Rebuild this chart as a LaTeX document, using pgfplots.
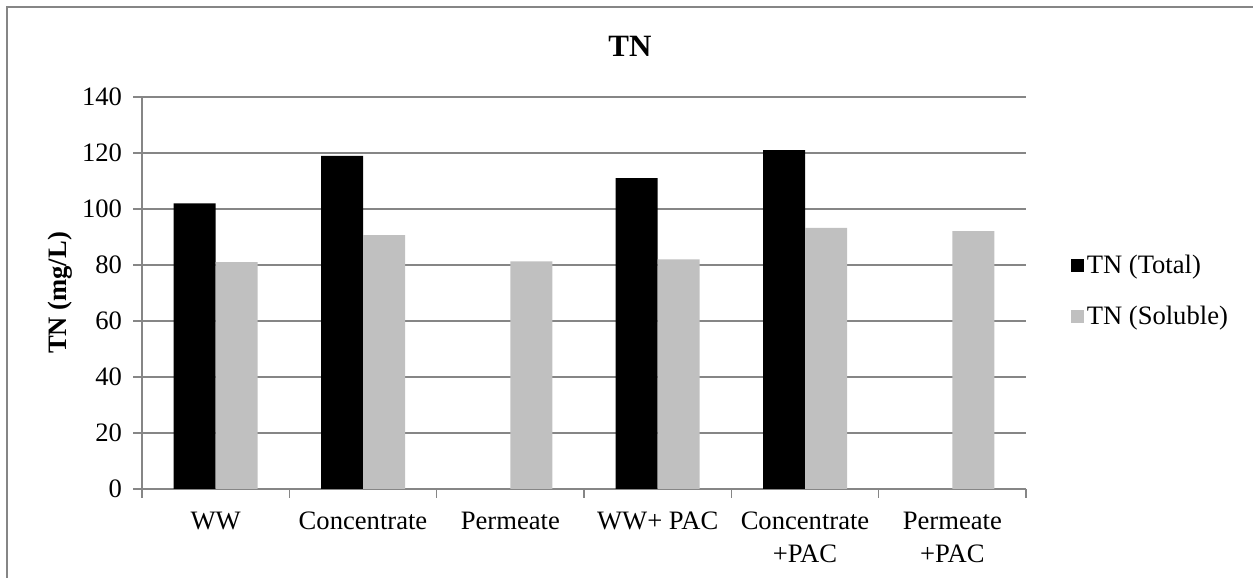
\documentclass[border=0pt]{standalone}
\usepackage{fontspec}
\setmainfont{Liberation Serif}
\usepackage{pgfplots}
\pgfplotsset{compat=1.18}
\definecolor{gridgray}{HTML}{868686}
\definecolor{solgray}{HTML}{C0C0C0}
\newcommand{\lbl}{\fontsize{13.3}{16.5}\selectfont}
\pgfplotsset{
  sqlegend/.style={legend image code/.code={\fill[##1] (0pt,-3.3pt) rectangle (6.6pt,3.3pt);}}
}
\begin{document}
\begin{tikzpicture}
\useasboundingbox (0pt,0pt) rectangle (626.5pt,289pt);
\draw[gridgray, line width=1pt] (3.5pt,-2pt) -- (3.5pt,285.5pt) -- (630pt,285.5pt);
\begin{axis}[
  at={(71pt,44.5pt)}, anchor=south west,
  scale only axis, width=442pt, height=196pt,
  ybar=0pt, bar width=21pt,
  xmin=-0.5, xmax=5.5, ymin=0, ymax=140,
  ytick={0,20,...,140},
  xtick={0,...,5},
  xticklabels={WW, Concentrate, Permeate, WW+ PAC, Concentrate\\+PAC, Permeate\\+PAC},
  minor xtick={-0.5,0.5,...,5.5},
  axis x line*=bottom, axis y line*=left,
  axis line style={gridgray, line width=0.7pt, -},
  tick align=outside,
  major tick length=4.5pt, minor tick length=4.5pt,
  tick style={gridgray, line width=0.7pt},
  major x tick style={draw=none},
  ymajorgrids, grid style={gridgray, line width=0.7pt},
  /pgf/number format/assume math mode=true,
  ticklabel style={font=\lbl},
  yticklabel style={xshift=-2pt},
  xticklabel style={align=center, yshift=-3.5pt},
  ylabel={TN (mg/L)},
  ylabel style={font=\lbl\bfseries, at={(axis description cs:-0.093,0.5)}, anchor=center},
  title={TN},
  title style={font=\fontsize{15.5}{18}\selectfont\bfseries, at={(axis description cs:0.552,1.099)}, anchor=center, yshift=0pt},
  legend style={at={(axis description cs:1.05,0.505)}, anchor=west, draw=none, fill=none,
    font=\lbl, row sep=12pt, inner sep=0pt, nodes={inner sep=1.5pt}},
  legend cell align=left,
]
\addplot[fill=black, draw=none, sqlegend] coordinates {(0,102) (1,119) (3,111) (4,121)};
\addplot[fill=solgray, draw=none, sqlegend] coordinates {(0,81) (1,90.7) (2,81.3) (3,82) (4,93.3) (5,92.1)};
\legend{TN (Total), TN (Soluble)}
\end{axis}
\end{tikzpicture}
\end{document}
